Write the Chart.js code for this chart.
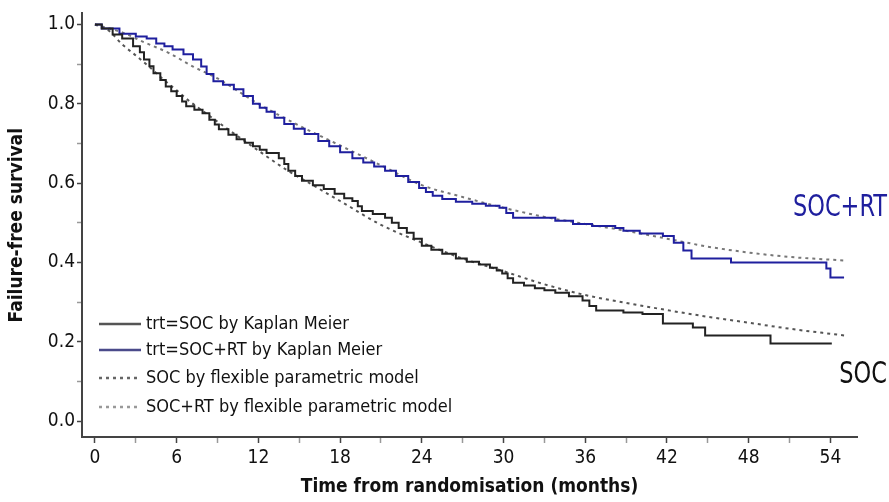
<!DOCTYPE html>
<html>
<head>
<meta charset="utf-8">
<script src="https://cdn.jsdelivr.net/npm/chart.js@4.4.1/dist/chart.umd.min.js"></script>
<style>
  html, body { margin: 0; padding: 0; background: #fff; }
  canvas { display: block; }
</style>
</head>
<body>
<canvas id="ffs" width="889" height="502"></canvas>
<script>
// Kaplan Meier estimates (time in months, survival)
const socTime = [0, 0.5, 1.3, 2, 2.8, 3.3, 3.6, 4, 4.3, 4.8, 5.2, 5.6, 6, 6.4, 6.7, 7.3, 7.9, 8.4, 8.8, 9.1, 9.8, 10.4, 11, 11.6, 12.1, 12.6, 13.5, 13.9, 14.2, 14.7, 15.2, 16, 16.8, 17.6, 18.3, 18.9, 19.3, 19.6, 20.4, 21.3, 21.8, 22.3, 22.9, 23.4, 24, 24.7, 25.5, 26.5, 27.3, 28.2, 29, 29.5, 29.9, 30.3, 30.7, 31.5, 32.3, 33, 33.8, 34.8, 35.8, 36.3, 36.8, 38.8, 40.2, 41.7, 43.9, 44.8, 49.6, 54.1];
const socSurv = [1.0, 0.99, 0.975, 0.965, 0.945, 0.93, 0.912, 0.895, 0.877, 0.86, 0.844, 0.832, 0.82, 0.806, 0.794, 0.785, 0.776, 0.76, 0.748, 0.736, 0.722, 0.711, 0.702, 0.693, 0.684, 0.676, 0.663, 0.648, 0.631, 0.618, 0.606, 0.595, 0.585, 0.573, 0.562, 0.555, 0.542, 0.53, 0.522, 0.513, 0.5, 0.487, 0.475, 0.46, 0.442, 0.432, 0.422, 0.41, 0.402, 0.395, 0.387, 0.38, 0.372, 0.36, 0.349, 0.342, 0.335, 0.33, 0.324, 0.315, 0.304, 0.29, 0.279, 0.274, 0.27, 0.246, 0.236, 0.216, 0.196, 0.196];

const rtTime = [0, 0.5, 1.8, 3, 3.8, 4.5, 5.1, 5.7, 6.5, 7.2, 7.8, 8.2, 8.7, 9.4, 10.2, 10.9, 11.6, 12.1, 12.6, 13.2, 13.9, 14.6, 15.4, 16.4, 17.2, 18, 18.9, 19.7, 20.5, 21.3, 22.1, 23, 23.8, 24.3, 24.8, 25.5, 26.5, 27.7, 28.7, 29.7, 30.2, 30.7, 33.8, 35.1, 36.5, 38.2, 38.8, 40, 41.7, 42.5, 43.2, 43.8, 46.7, 53.4, 53.7, 54, 55];
const rtSurv = [1.0, 0.99, 0.977, 0.97, 0.965, 0.952, 0.945, 0.937, 0.925, 0.912, 0.894, 0.875, 0.857, 0.848, 0.837, 0.82, 0.8, 0.79, 0.78, 0.765, 0.749, 0.737, 0.724, 0.706, 0.693, 0.678, 0.663, 0.652, 0.642, 0.631, 0.618, 0.603, 0.588, 0.578, 0.568, 0.56, 0.553, 0.548, 0.543, 0.538, 0.525, 0.513, 0.505, 0.497, 0.492, 0.487, 0.48, 0.473, 0.467, 0.45, 0.43, 0.41, 0.4, 0.4, 0.385, 0.362, 0.362];

// flexible parametric model fits
const socModelTime = [0, 1, 2, 3, 4, 5, 6, 7, 8, 10, 12, 14, 16, 18, 21, 24, 27, 30, 33, 36, 39, 42, 45, 48, 51, 55];
const socModelSurv = [1.0, 0.985, 0.95, 0.922, 0.893, 0.862, 0.834, 0.805, 0.78, 0.73, 0.682, 0.635, 0.595, 0.555, 0.495, 0.45, 0.41, 0.378, 0.345, 0.318, 0.298, 0.28, 0.263, 0.248, 0.233, 0.216];

const rtModelTime = [0, 2, 3.5, 5.5, 7.2, 9, 12, 15, 18, 21, 24, 27, 30, 33, 36, 39, 42, 45, 48, 51, 55];
const rtModelSurv = [1.0, 0.98, 0.957, 0.927, 0.894, 0.864, 0.8, 0.745, 0.695, 0.645, 0.595, 0.565, 0.538, 0.515, 0.497, 0.48, 0.46, 0.44, 0.425, 0.414, 0.405];

const xTicks = [0, 3, 6, 9, 12, 15, 18, 21, 24, 27, 30, 33, 36, 39, 42, 45, 48, 51, 54];
const yTicks = [0, 0.1, 0.2, 0.3, 0.4, 0.5, 0.6, 0.7, 0.8, 0.9, 1.0];

const seriesLabels = [
  'trt=SOC by Kaplan Meier',
  'trt=SOC+RT by Kaplan Meier',
  'SOC by flexible parametric model',
  'SOC+RT by flexible parametric model'
];

const FONT = "'DejaVu Sans Condensed', 'Liberation Sans Narrow', 'Roboto', sans-serif";

function toPoints(ts, vs) {
  return ts.map((t, i) => ({ x: t, y: vs[i] }));
}

const isMajorX = v => Math.abs(v % 6) < 1e-6;
const isMajorY = v => Math.abs(Math.round(v * 10) % 2) === 0;

// legend inside the plot area plus the group labels on the right
const overlay = {
  id: 'overlay',
  afterDraw(chart) {
    const ctx = chart.ctx;
    const ds = chart.data.datasets;
    ctx.save();
    ctx.font = '18px ' + FONT;
    ctx.textBaseline = 'middle';
    ctx.textAlign = 'left';
    const rows = [324, 350, 378, 407];
    ds.forEach((d, i) => {
      ctx.strokeStyle = d.legendColor;
      ctx.lineWidth = 2.5;
      ctx.setLineDash(d.borderDash || []);
      ctx.beginPath();
      ctx.moveTo(99, rows[i]);
      ctx.lineTo(141, rows[i]);
      ctx.stroke();
      ctx.setLineDash([]);
      ctx.fillStyle = '#111';
      ctx.fillText(d.label, 146, rows[i]);
    });

    // group names, drawn a little taller than wide
    const y = chart.scales.y;
    const groupLabel = (text, colour, value) => {
      ctx.save();
      ctx.translate(887, y.getPixelForValue(value));
      ctx.scale(1, 1.22);
      ctx.font = '25px ' + FONT;
      ctx.textAlign = 'right';
      ctx.fillStyle = colour;
      ctx.fillText(text, 0, 0);
      ctx.restore();
    };
    groupLabel('SOC+RT', '#1f1f9e', 0.538);
    groupLabel('SOC', '#111', 0.115);
    ctx.restore();
  }
};

new Chart(document.getElementById('ffs'), {
  type: 'line',
  data: {
    datasets: [
      {
        label: seriesLabels[0],
        data: toPoints(socTime, socSurv),
        borderColor: '#222',
        legendColor: '#555',
        borderWidth: 2,
        stepped: 'before',
        pointRadius: 0
      },
      {
        label: seriesLabels[1],
        data: toPoints(rtTime, rtSurv),
        borderColor: '#1f1f9e',
        legendColor: '#4a4a8a',
        borderWidth: 2,
        stepped: 'before',
        pointRadius: 0
      },
      {
        label: seriesLabels[2],
        data: toPoints(socModelTime, socModelSurv),
        borderColor: '#555',
        legendColor: '#666',
        borderWidth: 2,
        borderDash: [3, 4],
        cubicInterpolationMode: 'monotone',
        pointRadius: 0
      },
      {
        label: seriesLabels[3],
        data: toPoints(rtModelTime, rtModelSurv),
        borderColor: '#777',
        legendColor: '#999',
        borderWidth: 2,
        borderDash: [3, 4],
        cubicInterpolationMode: 'monotone',
        pointRadius: 0
      }
    ]
  },
  options: {
    responsive: false,
    animation: false,
    layout: { padding: { top: 12, right: 32, left: 6, bottom: 4 } },
    plugins: {
      legend: { display: false },
      tooltip: { enabled: false }
    },
    scales: {
      x: {
        type: 'linear',
        min: -0.95,
        max: 55.95,
        afterFit: s => { s.height = 61; },
        afterBuildTicks: s => { s.ticks = xTicks.map(v => ({ value: v })); },
        border: { display: true, color: '#444', width: 2 },
        grid: {
          drawOnChartArea: false,
          drawTicks: true,
          tickLength: 6,
          tickColor: c => (c.tick && isMajorX(c.tick.value)) ? '#444' : '#999',
          tickWidth: 1.5
        },
        ticks: {
          autoSkip: false,
          maxRotation: 0,
          padding: 4,
          color: '#111',
          font: { family: FONT, size: 19 },
          callback: v => isMajorX(v) ? String(v) : ''
        },
        title: {
          display: true,
          text: 'Time from randomisation (months)',
          color: '#111',
          padding: { top: 0, bottom: 0 },
          font: { family: FONT, size: 19, weight: 'bold' }
        }
      },
      y: {
        min: -0.04,
        max: 1.028,
        afterFit: s => { s.width = 76; },
        afterBuildTicks: s => { s.ticks = yTicks.map(v => ({ value: v })); },
        border: { display: true, color: '#444', width: 2 },
        grid: {
          drawOnChartArea: false,
          drawTicks: true,
          tickLength: 5,
          tickColor: c => (c.tick && isMajorY(c.tick.value)) ? '#444' : '#999',
          tickWidth: 1.5
        },
        ticks: {
          autoSkip: false,
          padding: 2,
          color: '#111',
          font: { family: FONT, size: 19 },
          callback: v => isMajorY(v) ? v.toFixed(1) : ''
        },
        title: {
          display: true,
          text: 'Failure-free survival',
          color: '#111',
          padding: { top: 0, bottom: 4 },
          font: { family: FONT, size: 19, weight: 'bold' }
        }
      }
    }
  },
  plugins: [overlay]
});
</script>
</body>
</html>
